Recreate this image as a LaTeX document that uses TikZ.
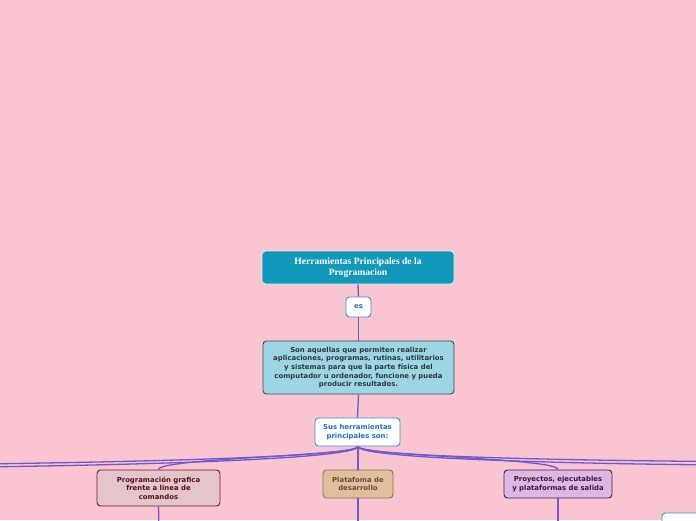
\documentclass[tikz,border=0pt]{standalone}
\usepackage{fontspec}
\setmainfont{DejaVu Sans}
\newfontfamily\rootfont{Liberation Serif}
\definecolor{bg}{RGB}{249,197,209}
\definecolor{conn}{RGB}{112,88,208}
\definecolor{rootfill}{RGB}{17,153,187}
\definecolor{bluebd}{RGB}{60,140,225}
\definecolor{bluetx}{RGB}{30,110,210}
\definecolor{deffill}{RGB}{157,214,227}
\definecolor{defbd}{RGB}{60,75,85}
\definecolor{deftx}{RGB}{43,55,62}
\definecolor{progfill}{RGB}{228,197,201}
\definecolor{progbd}{RGB}{110,28,45}
\definecolor{progtx}{RGB}{88,16,32}
\definecolor{platfill}{RGB}{226,190,158}
\definecolor{platbd}{RGB}{140,108,82}
\definecolor{plattx}{RGB}{105,75,60}
\definecolor{proyfill}{RGB}{221,184,226}
\definecolor{proybd}{RGB}{72,26,80}
\definecolor{proytx}{RGB}{58,24,64}
\begin{document}
\begin{tikzpicture}[x=1pt,y=-1pt,
  box/.style={rounded corners=3.5pt, line width=0.9pt, align=center, inner sep=0pt,
    font=\fontsize{6.9}{8.6}\selectfont\bfseries},
  conn/.style={draw=conn, line width=1.3pt},
]
\fill[bg] (0,0) rectangle (696,520);
\useasboundingbox (0,0) rectangle (696,520);

\node[box, fill=rootfill, draw=white!85!rootfill, text=white, minimum width=192pt, minimum height=33pt,
  font=\rootfont\bfseries\fontsize{9.6}{11.5}\selectfont] (root) at (358,267.5)
  {Herramientas Principales de la\\Programacion};
\node[box, fill=white, draw=bluebd, text=bluetx, minimum width=25pt, minimum height=20pt] (es) at (358.5,307) {es};
\node[box, fill=deffill, draw=defbd, text=deftx, minimum width=191pt, minimum height=53pt] (def) at (358.5,367.5)
  {Son aquellas que permiten realizar\\aplicaciones, programas, rutinas, utilitarios\\y sistemas para que la parte física del\\computador u ordenador, funcione y pueda\\producir resultados.};
\node[box, fill=white, draw=bluebd, text=bluetx, minimum width=85pt, minimum height=28pt] (sus) at (357.5,432)
  {Sus herramientas\\principales son:};
\node[box, fill=progfill, draw=progbd, text=progtx, minimum width=123pt, minimum height=36pt] (prog) at (158.5,488)
  {Programación grafica\\frente a linea de\\comandos};
\node[box, fill=platfill, draw=platbd, text=plattx, minimum width=70pt, minimum height=28pt] (plat) at (358,484)
  {Platafoma de\\desarrollo};
\node[box, fill=proyfill, draw=proybd, text=proytx, minimum width=108pt, minimum height=28pt] (proy) at (558,484)
  {Proyectos, ejecutables\\y plataformas de salida};
\node[box, fill=white, draw=bluebd, minimum width=70pt, minimum height=30pt] (extra) at (697,528) {};

\coordinate (L1) at (-20,464);
\coordinate (L2) at (-20,467);
\coordinate (R1) at (716,461.5);
\coordinate (R2) at (716,465);
\coordinate (Dprog) at (159,530);
\coordinate (Dplat) at (358,530);
\coordinate (Dproy) at (558,530);

\draw[conn] (root.south) -- (es.north);
\draw[conn] (es.south) -- (def.north);
\draw[conn] (def.south) -- (sus.north);
\draw[conn] ([xshift=0.5pt]sus.south) .. controls (358,456) and (159,458) .. (prog.north);
\draw[conn] ([xshift=0.5pt]sus.south) -- (plat.north);
\draw[conn] ([xshift=0.5pt]sus.south) .. controls (358,456) and (558,458) .. (proy.north);
\draw[conn] ([xshift=0.5pt]sus.south) .. controls (358,455) and (200,461) .. (L1);
\draw[conn] ([xshift=0.5pt]sus.south) .. controls (358,457) and (200,464) .. (L2);
\draw[conn] ([xshift=0.5pt]sus.south) .. controls (358,455) and (520,460) .. (R1);
\draw[conn] ([xshift=0.5pt]sus.south) .. controls (358,457) and (520,463) .. (R2);
\draw[conn] (prog.south) -- (Dprog);
\draw[conn] (plat.south) -- (Dplat);
\draw[conn] (proy.south) -- (Dproy);
\end{tikzpicture}
\end{document}
